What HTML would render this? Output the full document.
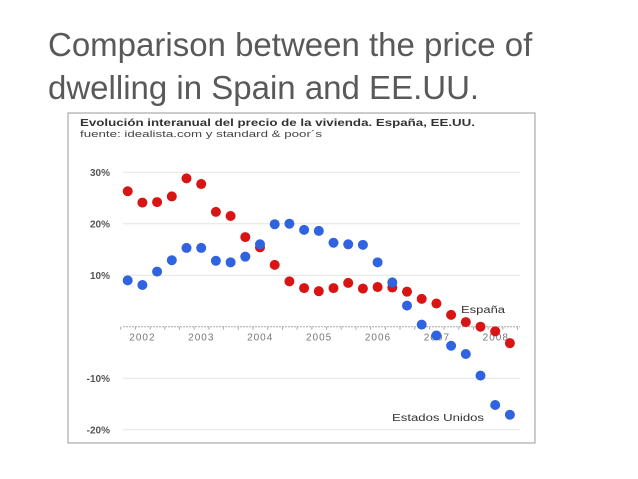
<!DOCTYPE html>
<html><head><meta charset="utf-8"><style>
body{margin:0;width:638px;height:479px;background:#fff;overflow:hidden;font-family:"Liberation Sans",sans-serif}
.t{position:absolute;left:48px;color:#595959;font-size:33px;line-height:43px;font-family:"Liberation Sans",sans-serif;white-space:nowrap}
</style></head><body>
<div class="t" style="top:23px">Comparison between the price of<br>dwelling in Spain and EE.UU.</div>
<svg width="638" height="479" style="position:absolute;left:0;top:0" id="ch">
<rect x="68" y="113" width="467" height="330" fill="#fff" stroke="#999" stroke-width="1"/>
<text x="80" y="126" font-size="10" font-weight="bold" fill="#333" textLength="395" lengthAdjust="spacingAndGlyphs">Evolución interanual del precio de la vivienda. España, EE.UU.</text>
<text x="80" y="137" font-size="9" fill="#444" textLength="242" lengthAdjust="spacingAndGlyphs">fuente: idealista.com y standard &amp; poor´s</text>
<g id="g"></g>
</svg>
<script>
const yTicks=[30,20,10,-10,-20];
const yearLabels=["2002","2003","2004","2005","2006","2007","2008"];
const spain=[26.3,24.1,24.2,25.3,28.8,27.7,22.3,21.5,17.4,15.4,12.0,8.8,7.5,6.9,7.5,8.5,7.4,7.7,7.6,6.8,5.4,4.5,2.3,0.9,0,-0.9,-3.2];
const usa=[9,8.1,10.7,12.9,15.3,15.3,12.8,12.5,13.6,16,19.9,20,18.8,18.6,16.3,16,15.9,12.5,8.6,4.1,0.4,-1.7,-3.7,-5.3,-9.5,-15.2,-17.1];
const NS="http://www.w3.org/2000/svg";
const g=document.getElementById('g');
const y=v=>326.7-v*5.15;
const x=i=>127.7+i*14.7;
function mk(t,a){const e=document.createElementNS(NS,t);for(const k in a)e.setAttribute(k,a[k]);g.appendChild(e);return e;}
yTicks.forEach(v=>{
 const l=mk('line',{x1:123,x2:520,y1:y(v),y2:y(v),stroke:'#e4e4e4','stroke-width':1});
 
 
 const t=mk('text',{x:110,y:y(v)+4,'font-size':10,'font-weight':'bold',fill:'#555','text-anchor':'end'});t.textContent=v+'%';
 
 
});
const ax=mk('line',{x1:123,x2:520,y1:y(0),y2:y(0),stroke:'#aaa','stroke-width':1,'stroke-dasharray':'2,1'});


for(let i=0;i<28;i++){const tk=mk('line',{x1:x(i)-7,x2:x(i)-7,y1:y(0),y2:y(0)+3,stroke:'#aaa'});
 
 }
yearLabels.forEach((s,i)=>{const t=mk('text',{x:x(1)+i*58.9,y:y(0)+14,'font-size':10,'letter-spacing':1,fill:'#777','text-anchor':'middle'});t.textContent=s;
 
 });
spain.forEach((v,i)=>{const c=mk('circle',{cx:x(i),cy:y(v),r:5,fill:'#d81414'});
 
 });
usa.forEach((v,i)=>{const c=mk('circle',{cx:x(i),cy:y(v),r:5,fill:'#2f63e0'});
 
 });
const l1=mk('text',{x:461,y:313,'font-size':10,fill:'#333',textLength:44,lengthAdjust:'spacingAndGlyphs'});l1.textContent='España';


const l2=mk('text',{x:392,y:421,'font-size':10,fill:'#333',textLength:92,lengthAdjust:'spacingAndGlyphs'});l2.textContent='Estados Unidos';


</script>
</body></html>
